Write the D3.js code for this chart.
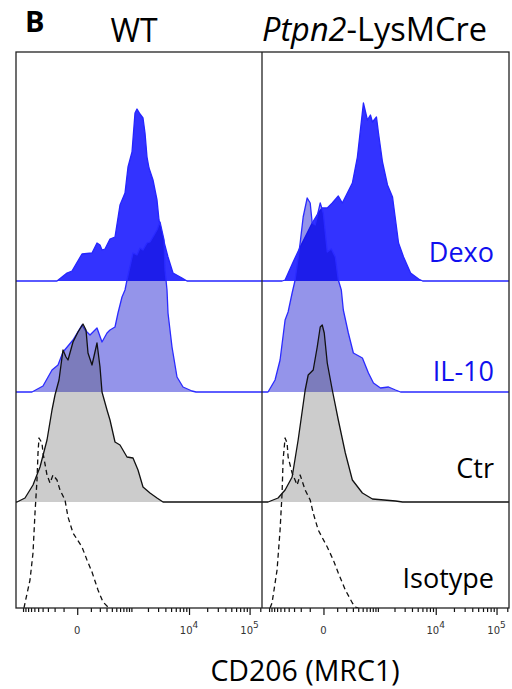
<!DOCTYPE html>
<html><head><meta charset="utf-8">
<script src="https://cdn.jsdelivr.net/npm/d3@7"></script>
<style>body{margin:0;background:#fff} svg{display:block}</style>
</head><body>
<svg id="c" width="512" height="689"></svg>
<script>
// ---------------- DATA ----------------
const genotypes = ["WT", "Ptpn2-LysMCre"];
const samples = ["Dexo", "IL-10", "Ctr", "Isotype"];
// histograms: [display channel, normalized count (a.u.)]
const wtDexo = [[41,0],[51,8],[56,10],[66,27],[76,28],[81,38],[84,36],[86,31],[89,32],[94,42],[99,44],[104,76],[109,88],[112,114],[116,129],[119,168],[121,172],[124,167],[127,163],[129,148],[131,124],[133,113],[137,101],[141,81],[143,61],[147,43],[152,24],[157,8],[166,3],[171,0]];
const wtIL10 = [[16,0],[27,6],[36,22],[42,27],[47,40],[57,52],[66,67],[69,62],[74,57],[81,64],[86,50],[91,59],[94,62],[99,65],[102,79],[106,95],[109,102],[111,112],[117,139],[121,137],[124,144],[127,142],[131,149],[134,150],[137,155],[141,162],[144,170],[148,152],[149,122],[151,102],[152,79],[156,45],[161,15],[167,5],[176,1],[180,0]];
const wtCtr = [[1,0],[9,4],[17,17],[24,35],[31,62],[36,92],[39,107],[43,122],[47,152],[50,145],[52,142],[57,160],[62,170],[67,178],[70,172],[72,149],[76,137],[81,159],[84,135],[86,110],[91,92],[94,82],[99,60],[104,57],[111,45],[117,44],[122,32],[127,15],[134,9],[141,4],[147,0]];
const wtIso = [[8,0],[9,5],[14,28],[17,55],[19,95],[21,128],[22,155],[23,170],[26,165],[27,155],[31,133],[34,125],[37,133],[41,128],[44,118],[49,108],[52,91],[57,75],[66,61],[71,48],[76,36],[82,18],[87,6],[92,1],[95,0]];
const koDexo = [[20,0],[23,1],[31,19],[38,34],[43,44],[50,58],[56,68],[60,73],[65,73],[70,78],[76,85],[80,78],[90,98],[95,124],[98,151],[101,178],[105,161],[108,166],[110,159],[114,164],[116,148],[120,119],[125,96],[130,84],[133,61],[136,38],[141,24],[148,8],[156,2],[160,0]];
const koIL10 = [[6,0],[13,12],[18,32],[23,72],[26,80],[30,99],[33,112],[38,149],[41,175],[45,194],[48,189],[50,169],[53,167],[58,189],[61,179],[65,140],[69,143],[73,135],[76,112],[79,102],[81,82],[86,59],[91,39],[100,34],[106,19],[111,9],[118,4],[126,5],[133,2],[138,0]];
const koCtr = [[6,0],[16,4],[23,12],[30,25],[36,62],[43,112],[46,127],[51,132],[55,155],[58,175],[60,177],[62,169],[65,139],[70,112],[76,82],[83,49],[90,22],[100,9],[110,3],[133,1],[140,0]];
const koIso = [[8,0],[10,5],[15,38],[18,78],[20,115],[21,148],[23,170],[25,165],[26,151],[30,135],[35,123],[38,133],[43,118],[48,108],[51,95],[56,78],[65,61],[71,48],[76,35],[83,18],[90,5],[93,1],[96,0]];
const histData = [
  {Dexo: wtDexo, "IL-10": wtIL10, Ctr: wtCtr, Isotype: wtIso},
  {Dexo: koDexo, "IL-10": koIL10, Ctr: koCtr, Isotype: koIso}
];
const majorTicks = [0, 1e4, 1e5];
const majorTickLabels = [["0", ""], ["10", "4"], ["10", "5"]];
const minorTicks = [-1000,-900,-800,-700,-600,-500,-400,-300,-200,-100,
  100,200,300,400,500,600,700,800,900,1000,2000,3000,4000,5000,6000,7000,8000,9000,
  20000,30000,40000,50000,60000,70000,80000,90000,150000];
const xTitle = "CD206 (MRC1)";

// ---------------- LAYOUT ----------------
const svg = d3.select("#c");
const topY = 52, botY = 608;
const panels = [[16, 262], [262, 509]];
const baseY = {Dexo: 281, "IL-10": 392, Ctr: 502, Isotype: 608};
const style = {
  Dexo:    {fill: "#3333ff", op: 1,    stroke: "#2525ff", dash: null},
  "IL-10": {fill: "#0000cc", op: 0.42, stroke: "#2a2aff", dash: null},
  Ctr:     {fill: "#3a3a3a", op: 0.26, stroke: "#111",    dash: null},
  Isotype: {fill: "none",    op: 0,    stroke: "#111",    dash: "5,3.5"}
};
const yH = d3.scaleLinear().domain([0, 200]).range([0, 200]);
const FONT = "'Open Sans', 'DejaVu Sans', sans-serif";

panels.forEach(([L, R], pi) => {
  const xCh = d3.scaleLinear().domain([0, 246]).range([L, R]);
  const xAx = d3.scaleSymlog().constant(148).domain([-1350, 160000]).range([L, R]);
  const g = svg.append("g");
  const clipId = "clip" + pi;
  svg.append("clipPath").attr("id", clipId).append("rect")
    .attr("x", L).attr("y", topY).attr("width", R - L).attr("height", botY - topY);
  const gc = g.append("g").attr("clip-path", `url(#${clipId})`);
  samples.forEach(s => {
    const raw = histData[pi][s];
    const pts = [[0, 0]].concat(raw, [[246, 0]]);
    const b = baseY[s];
    const st = style[s];
    if (st.fill !== "none") {
      gc.append("path").datum(pts)
        .attr("d", d3.area().x(d => xCh(d[0])).y0(b).y1(d => b - yH(d[1])))
        .attr("fill", st.fill).attr("fill-opacity", st.op);
    }
    gc.append("path").datum(st.dash ? raw : pts)
      .attr("d", d3.line().x(d => xCh(d[0])).y(d => b - yH(d[1])))
      .attr("fill", "none").attr("stroke", st.stroke).attr("stroke-width", 1.3)
      .attr("stroke-dasharray", st.dash).attr("stroke-linejoin", "round");
  });
  // axis ticks
  const gx = g.append("g").attr("transform", `translate(0,${botY})`);
  gx.call(d3.axisBottom(xAx).tickValues(minorTicks).tickSize(4).tickSizeOuter(0).tickFormat(""));
  gx.select(".domain").remove();
  const gx2 = g.append("g").attr("transform", `translate(0,${botY})`);
  gx2.call(d3.axisBottom(xAx).tickValues(majorTicks).tickSize(7).tickSizeOuter(0).tickFormat(""));
  gx2.select(".domain").remove();
  g.selectAll(".tick line").attr("stroke", "#111").attr("stroke-width", 1.2);
  majorTicks.forEach((v, i) => {
    const t = g.append("text").attr("x", xAx(v)).attr("y", 634)
      .attr("text-anchor", "middle").attr("font-family", "'DejaVu Sans', sans-serif")
      .attr("font-size", 10).attr("fill", "#333");
    t.append("tspan").text(majorTickLabels[i][0]);
    if (majorTickLabels[i][1]) t.append("tspan").attr("dy", -6).attr("font-size", 9).text(majorTickLabels[i][1]);
  });
});

// panel borders
svg.append("rect").attr("x", 16).attr("y", topY).attr("width", 509 - 16).attr("height", botY - topY)
  .attr("fill", "none").attr("stroke", "#222").attr("stroke-width", 1.3);
svg.append("line").attr("x1", 262).attr("x2", 262).attr("y1", topY).attr("y2", botY)
  .attr("stroke", "#222").attr("stroke-width", 1.3);

// titles
svg.append("text").attr("x", 25).attr("y", 31.5).attr("font-family", FONT)
  .attr("font-weight", "bold").attr("font-size", 29).text("B");
svg.append("text").attr("x", 134).attr("y", 42).attr("text-anchor", "middle")
  .attr("font-family", FONT).attr("font-size", 32).text(genotypes[0]);
const kt = svg.append("text").attr("x", 262).attr("y", 41).attr("font-family", FONT).attr("font-size", 32.5);
kt.append("tspan").attr("font-style", "italic").text(genotypes[1].split("-")[0]);
kt.append("tspan").text("-" + genotypes[1].split("-").slice(1).join("-"));

// sample labels
const labelY = {Dexo: 262, "IL-10": 381, Ctr: 478, Isotype: 588};
const labelColor = {Dexo: "#1010ee", "IL-10": "#1010ee", Ctr: "#000", Isotype: "#000"};
samples.forEach(s => {
  svg.append("text").attr("x", 494).attr("y", labelY[s]).attr("text-anchor", "end")
    .attr("font-family", FONT).attr("font-size", 27).attr("fill", labelColor[s]).text(s);
});

// x title
svg.append("text").attr("x", 305).attr("y", 681).attr("text-anchor", "middle")
  .attr("font-family", FONT).attr("font-size", 28.5).text(xTitle);
</script>
</body></html>
